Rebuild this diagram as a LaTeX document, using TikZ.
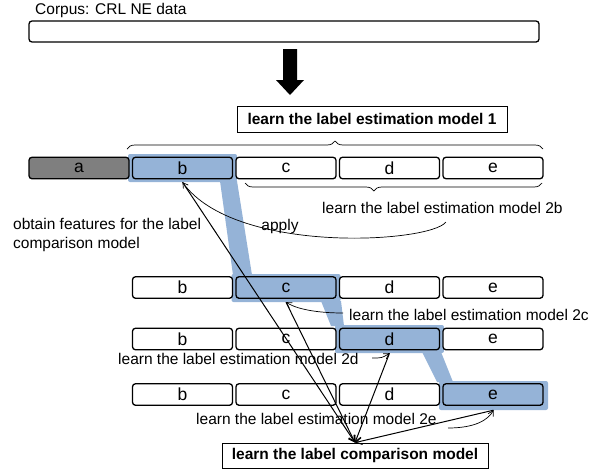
\documentclass[tikz,border=0pt]{standalone}
\usepackage{fontspec}
\setmainfont{Liberation Sans}
\usetikzlibrary{arrows.meta,decorations.pathreplacing}
\definecolor{bandblue}{HTML}{95B3D7}
\definecolor{donegray}{HTML}{7F7F7F}
\begin{document}
\begin{tikzpicture}[x=1pt,y=-1pt,
  every node/.style={font=\fontsize{15.5}{19}\selectfont},
  seg/.style={draw, line width=1.3pt, rounded corners=3pt, minimum width=100pt,
    minimum height=21.5pt, inner sep=0pt, fill=white,
    font=\fontsize{17.5}{19}\selectfont},
  segdone/.style={seg, fill=donegray},
  segcur/.style={seg, fill=bandblue},
  hl/.style={fill=bandblue, inner sep=0pt, minimum height=28pt, minimum width=109pt, rounded corners=2pt},
  band/.style={fill=bandblue},
  titlebox/.style={draw, line width=0.8pt, inner sep=0pt, font=\fontsize{15.5}{19}\selectfont\bfseries},
  lbl/.style={inner sep=0pt},
  feed/.style={line width=1pt, -{Straight Barb[length=6pt,width=7pt]}},
  apply/.style={line width=0.7pt, -{Straight Barb[length=5pt,width=6pt]}},
  brc/.style={line width=0.7pt, decorate, decoration={brace, amplitude=8pt}}
]
\useasboundingbox (0,0) rectangle (605,472);

% corpus and the big arrow
\node[lbl, anchor=west] (corpt) at (35,10) {Corpus: CRL NE data};
\node[draw, line width=1.3pt, rounded corners=3pt, minimum width=510pt,
  minimum height=21pt, inner sep=0pt] (corpus) at (284,31.5) {};
\fill (283,49) -- (297,49) -- (297,80) -- (304,80) -- (290,95) -- (276,80)
  -- (283,80) -- cycle;

\node[titlebox, minimum width=270pt, minimum height=26pt] (m1) at (372,119)
  {learn the label estimation model 1};

% highlighted path through the rows
\node[hl] (hb) at (182.5,168) {};
\node[hl] (hc) at (286,288) {};
\node[hl] (hd) at (389.5,339) {};
\node[hl, minimum height=29pt] (he) at (493.5,395.5) {};
\fill[band] (220,181) -- (237,181) -- (252,275) -- (233,275) -- cycle;
\fill[band] (321,301) -- (341,301) -- (344,326) -- (331,326) -- cycle;
\fill[band] (422,352) -- (441,352) -- (453,382) -- (437,382) -- cycle;

% row 1
\node[segdone] (a1) at (79,168) {a};
\node[segcur] (b1) at (182.5,168) {b};
\node[seg] (c1) at (286,168) {c};
\node[seg] (d1) at (389.5,168) {d};
\node[seg] (e1) at (493,168) {e};
% row 2
\node[seg] (b2) at (182.5,287.5) {b};
\node[segcur] (c2) at (286,287.5) {c};
\node[seg] (d2) at (389.5,287.5) {d};
\node[seg] (e2) at (493,287.5) {e};
% row 3
\node[seg] (b3) at (182.5,339) {b};
\node[seg] (c3) at (286,339) {c};
\node[segcur] (d3) at (389.5,339) {d};
\node[seg] (e3) at (493,339) {e};
% row 4
\node[seg] (b4) at (182.5,394.5) {b};
\node[seg] (c4) at (286,394.5) {c};
\node[seg] (d4) at (389.5,394.5) {d};
\node[segcur] (e4) at (493,394.5) {e};

% braces
\draw[brc] (127,149) -- (543,149);
\draw[brc, decoration={aspect=0.566}] (542,183) -- (245,183);

% labels
\node[lbl, anchor=west] (t2b) at (322,208) {learn the label estimation model 2b};
\node[lbl, anchor=west, align=left] (feat) at (13,234.5)
  {obtain features for the label\\comparison model};
\node[lbl] (applyt) at (280,226) {apply};
\node[lbl, anchor=west] (t2c) at (349,315) {learn the label estimation model 2c};
\node[lbl, anchor=west] (t2d) at (118,359) {learn the label estimation model 2d};
\node[lbl, anchor=west] (t2e) at (196,419) {learn the label estimation model 2e};

\node[titlebox, minimum width=266pt, minimum height=25pt] (cmp) at (355,455.5)
  {learn the label comparison model};

% applying each model to its part
\coordinate (s2b) at (446,222);
\coordinate (s2c) at (343,313);
\coordinate (s2d) at (372,358);
\coordinate (s2e) at (448,428);
\draw[apply] (s2b) .. controls (430,243) and (235,255) .. (hb.south);
\draw[apply] (s2c) .. controls (325,313) and (300,311) .. (hc.south);
\draw[apply] (s2d) .. controls (382,358) .. (hd.south);
\draw[apply] (s2e) .. controls (475,428) and (488,420) .. (he.south);

% features collected for the comparison model
\draw[feed] (hb.south) -- (cmp.north);
\draw[feed] (hc.south) -- (cmp.north);
\draw[feed] (hd.south) -- (cmp.north);
\draw[feed] (he.south) -- (cmp.north);
\end{tikzpicture}
\end{document}
